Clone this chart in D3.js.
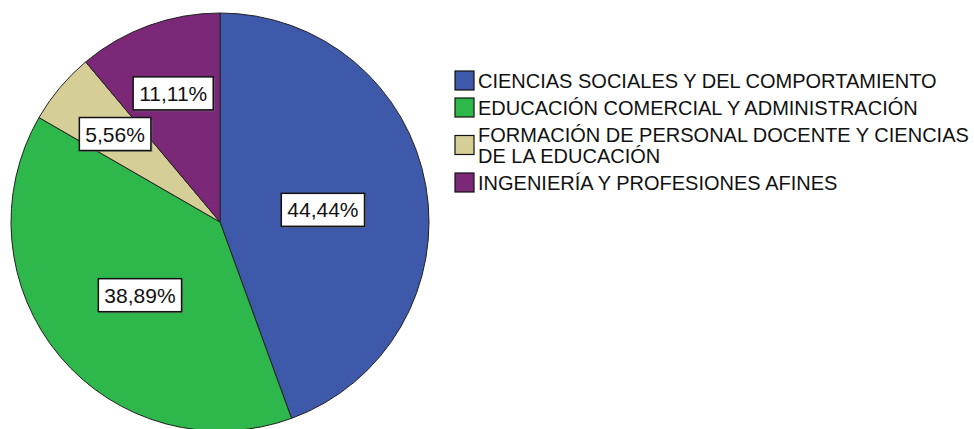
<!DOCTYPE html>
<html lang="es">
  <head>
    <meta charset="UTF-8" />
    <title>Gráfico circular con D3.js</title>
    <style>
      body {
        margin: 0;
        overflow: hidden;
        background: #fff;
      }
      svg {
        display: block;
        font-family: "Liberation Sans", Arial, sans-serif;
      }
      .slice {
        stroke: #222;
        stroke-width: 1px;
      }
      .label-box {
        fill: #fff;
        stroke: #111;
        stroke-width: 1.5px;
      }
    </style>
  </head>
  <body>
    <svg width="974" height="429"></svg>

    <script src="https://d3js.org/d3.v7.min.js"></script>
    <script>
      // datos del gráfico
      const categories = [
        "CIENCIAS SOCIALES Y DEL COMPORTAMIENTO",
        "EDUCACIÓN COMERCIAL Y ADMINISTRACIÓN",
        "FORMACIÓN DE PERSONAL DOCENTE Y CIENCIAS DE LA EDUCACIÓN",
        "INGENIERÍA Y PROFESIONES AFINES",
      ];
      const percents = [44.44, 38.89, 5.56, 11.11];
      const labels = ["44,44%", "38,89%", "5,56%", "11,11%"];
      // líneas del texto de la leyenda
      const legendLines = [
        ["CIENCIAS SOCIALES Y DEL COMPORTAMIENTO"],
        ["EDUCACIÓN COMERCIAL Y ADMINISTRACIÓN"],
        ["FORMACIÓN DE PERSONAL DOCENTE Y CIENCIAS", "DE LA EDUCACIÓN"],
        ["INGENIERÍA Y PROFESIONES AFINES"],
      ];
      const colors = ["#3e58aa", "#2eb74b", "#d5cf97", "#7c2879"];

      const svg = d3.select("svg");

      const cx = 220,
        cy = 222,
        radius = 209;

      const color = d3.scaleOrdinal().domain(categories).range(colors);

      // sentido horario desde las 12, como en SPSS
      const pie = d3
        .pie()
        .sort(null)
        .value((d) => d.value);

      const arcs = pie(
        categories.map((c, i) => ({ name: c, value: percents[i], label: labels[i] }))
      );

      const arc = d3.arc().innerRadius(0).outerRadius(radius);

      const g = svg.append("g").attr("transform", `translate(${cx},${cy})`);

      g.selectAll("path")
        .data(arcs)
        .join("path")
        .attr("class", "slice")
        .attr("fill", (d) => color(d.data.name))
        .attr("d", arc);

      // las etiquetas pequeñas van más hacia el borde
      const labelArc = (d) => {
        const share = d.data.value / 100;
        const r = share < 0.15 ? radius * 0.655 : radius * 0.5;
        return d3.arc().innerRadius(r).outerRadius(r).centroid(d);
      };

      const lab = g
        .selectAll("g.label")
        .data(arcs)
        .join("g")
        .attr("class", "label")
        .attr("transform", (d) => {
          const [x, y] = labelArc(d);
          const dy = d.data.value / 100 < 0.15 ? 0 : 6;
          return `translate(${x},${y + dy})`;
        });

      lab
        .append("text")
        .attr("text-anchor", "middle")
        .attr("dominant-baseline", "central")
        .attr("font-size", 21)
        .attr("fill", "#111")
        .text((d) => d.data.label);

      // caja blanca detrás de cada etiqueta
      lab.each(function () {
        const t = d3.select(this).select("text");
        const b = t.node().getBBox();
        const padX = 6,
          padY = 5;
        d3.select(this)
          .insert("rect", "text")
          .attr("x", b.x - padX + 1.5)
          .attr("y", b.y - padY + 1.5)
          .attr("width", b.width + padX * 2)
          .attr("height", b.height + padY * 2)
          .attr("fill", "#777")
          .attr("opacity", 0.6);
        d3.select(this)
          .insert("rect", "text")
          .attr("class", "label-box")
          .attr("x", b.x - padX)
          .attr("y", b.y - padY)
          .attr("width", b.width + padX * 2)
          .attr("height", b.height + padY * 2);
      });

      // leyenda
      const lineH = 21,
        gap = 6,
        sw = 19;
      const legend = svg.append("g").attr("transform", "translate(455,67)");

      let offset = 0;
      legendLines.forEach((lines, i) => {
        const h = gap + lines.length * lineH;
        const mid = offset + h / 2;
        const item = legend.append("g");
        item
          .append("rect")
          .attr("x", 0)
          .attr("y", mid - sw / 2)
          .attr("width", sw)
          .attr("height", sw)
          .attr("fill", color(categories[i]))
          .attr("stroke", "#111")
          .attr("stroke-width", 1.2);
        const t = item
          .append("text")
          .attr("x", sw + 4)
          .attr("font-size", 20)
          .attr("fill", "#111");
        lines.forEach((ln, j) => {
          t.append("tspan")
            .attr("x", sw + 4)
            .attr("y", mid + (j - (lines.length - 1) / 2) * lineH)
            .attr("dominant-baseline", "central")
            .text(ln);
        });
        offset += h;
      });
    </script>
  </body>
</html>
